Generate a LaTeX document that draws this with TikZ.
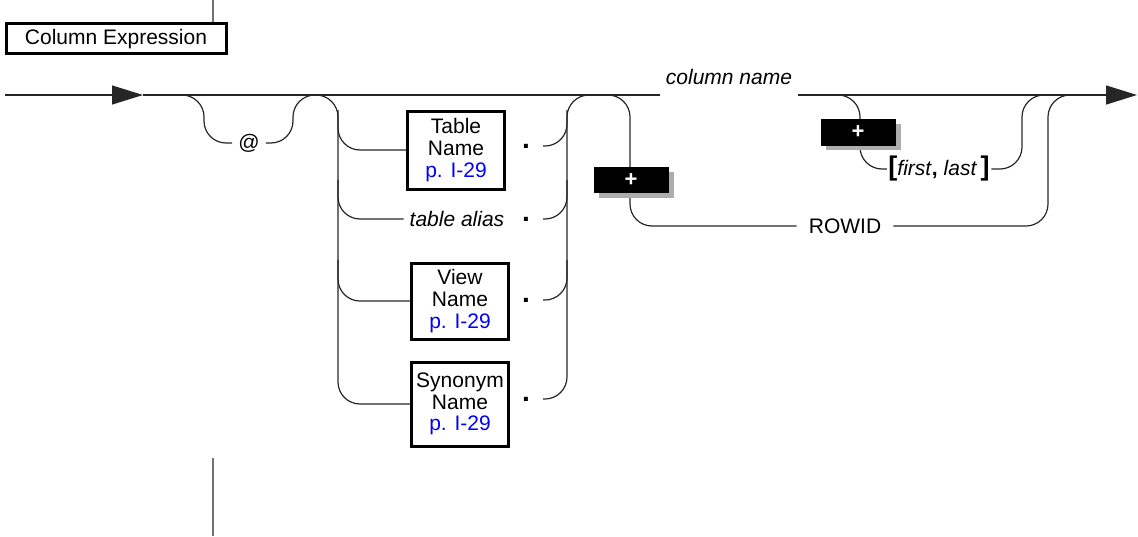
\documentclass[tikz,border=0pt]{standalone}
\usepackage{xcolor}
\usepackage{fontspec}
\setmainfont{Liberation Sans}
\usepackage{tikz}
\usetikzlibrary{positioning,arrows.meta,calc}

\newcommand{\railfont}{\fontsize{21}{21.7}\selectfont}

\begin{document}
\begin{tikzpicture}[x=1pt, y=-1pt,
    rail/.style={draw=black!85, line width=1.2pt, rounded corners=22pt},
    flow/.style={draw=black!85, line width=1.2pt, -{Triangle[length=31pt, width=19pt]}},
    guide/.style={draw=black!55, line width=2pt},
    refbox/.style={draw, line width=3pt, fill=white, align=center, minimum width=97pt, minimum height=78pt, inner sep=2pt, font=\railfont},
    lbl/.style={inner sep=6pt, font=\railfont},
    period/.style={minimum width=34pt, inner sep=0pt, font=\bfseries\fontsize{28}{28}\selectfont},
    plusbox/.style={fill=black, text=white, minimum width=75pt, minimum height=26pt, inner sep=0pt, font=\bfseries\fontsize{22}{22}\selectfont},
    shadowbox/.style={fill=black!32, minimum width=75pt, minimum height=26pt, inner sep=0pt}
]
    \useasboundingbox (0,0) rectangle (1138,536);

    % heading and page guides
    \node[lbl, draw, line width=3pt, minimum width=220pt, minimum height=30pt, inner sep=0pt, text depth=2pt] (title) at (116,38) {Column Expression};
    \coordinate (topend) at (213,0);
    \coordinate (botA) at (213,458);
    \coordinate (botB) at (213,536);
    \draw[guide] (topend) -- (topend |- title.north);
    \draw[guide] (botA) -- (botB);

    % main line
    \coordinate (start) at (5,95);
    \coordinate (entry) at (143,95);
    \coordinate (exit) at (1137,95);
    \node[lbl, font=\itshape\railfont] (colname) at (729,77) {column name};
    \draw[flow] (start) -- (entry);
    \draw[rail] (entry) -- (entry -| colname.west);
    \draw[flow] (colname.east |- entry) -- (exit);

    % qualifiers
    \node[lbl] (atsign) at (249,143) {@};
    \node[refbox] (tabname) at (456,150) {Table\\Name\\\textcolor{blue}{p. I-29}};
    \node[lbl, font=\itshape\railfont] (alias) at (457,219) {table alias};
    \node[refbox, minimum height=76pt] (viewname) at (460,301) {View\\Name\\\textcolor{blue}{p. I-29}};
    \node[refbox, minimum height=84pt] (synname) at (460,404) {Synonym\\Name\\\textcolor{blue}{p. I-29}};

    \node[period] (tdot) at (526,146) {.};
    \node[period] (adot) at (526,219) {.};
    \node[period] (vdot) at (526,300) {.};
    \node[period] (sdot) at (526,399) {.};

    \node[lbl, inner sep=12pt] (rowid) at (845,226) {ROWID};
    \node[inner sep=1.5pt, font=\railfont] (range) at (939,169) {{\bfseries\fontsize{27}{27}\selectfont[}\textit{first}\textbf{,} \textit{last}\,{\bfseries\fontsize{27}{27}\selectfont]}};

    \draw[rail] (180,95) -- (204,95) -- (204,143) -- (atsign.west);
    \draw[rail] (atsign.east) -- (293,143) -- (293,95) -- (338,95) -- (338,404) -- (synname.west);
    \draw[rail] (338,110) -- (338,150) -- (tabname.west);
    \draw[rail] (338,180) -- (338,219) -- (alias.west);
    \draw[rail] (338,260) -- (338,301) -- (viewname.west);

    \draw[rail] (tdot.east) -- (567,146) -- (567,110);
    \draw[rail] (adot.east) -- (567,219) -- (567,180);
    \draw[rail] (vdot.east) -- (567,300) -- (567,260);
    \draw[rail] (sdot.east) -- (567,399) -- (567,95) -- (630,95) -- (630,226) -- (rowid.west);
    \draw[rail] (rowid.east) -- (1048,226) -- (1048,95) -- (1074,95);

    \draw[rail] (836,95) -- (860,95) -- (860,169) -- (range.west);
    \draw[rail] (range.east) -- (1022,169) -- (1022,95) -- (1046,95);

    % plus markers
    \node[shadowbox] (shadow1) at (636,185) {};
    \node[plusbox] (plus1) at (631,180) {+};
    \node[shadowbox] (shadow2) at (863,137) {};
    \node[plusbox, minimum height=27pt] (plus2) at (858,132) {+};

\end{tikzpicture}
\end{document}
